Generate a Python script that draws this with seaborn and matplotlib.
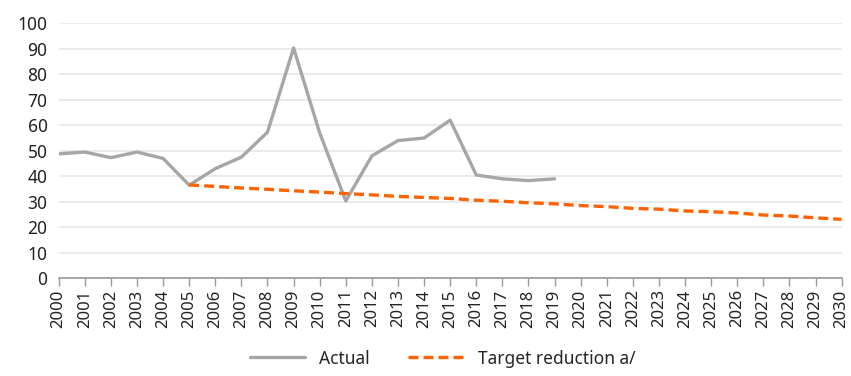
import matplotlib
matplotlib.use("Agg")
import matplotlib.pyplot as plt
import seaborn as sns
import pandas as pd

years_actual = list(range(2000, 2020))
actual = [48.8, 49.5, 47.3, 49.5, 47.0, 36.5, 43.0, 47.5, 57.3, 90.3,
          57.0, 30.3, 48.0, 54.0, 55.0, 62.0, 40.5, 39.0, 38.3, 39.0]

years_target = list(range(2005, 2031))
target = [36.6, 36.0, 35.4, 34.9, 34.3, 33.8, 33.2, 32.7, 32.1, 31.7,
          31.3, 30.6, 30.2, 29.6, 29.2, 28.5, 28.1, 27.4, 27.1, 26.4,
          26.1, 25.6, 24.8, 24.4, 23.7, 23.1]

series_names = ["Actual", "Target reduction a/"]
year_ticks = list(range(2000, 2031))
y_ticks = list(range(0, 101, 10))

df = pd.concat([
    pd.DataFrame({"year": years_actual, "value": actual, "series": series_names[0]}),
    pd.DataFrame({"year": years_target, "value": target, "series": series_names[1]}),
])

sns.set_theme(style="white")
plt.rcParams["font.family"] = ["Noto Sans", "DejaVu Sans"]

fig = plt.figure(figsize=(8.51, 3.76), dpi=100)
ax = fig.add_axes([0.069, 0.26, 0.92, 0.678])

palette = {series_names[0]: "#a6a6a6", series_names[1]: "#ff6200"}
sns.lineplot(data=df, x="year", y="value", hue="series", style="series",
             palette=palette, dashes={series_names[0]: "", series_names[1]: (3, 1.5)},
             linewidth=2.4, ax=ax, legend=True)

ax.set_xlim(2000, 2030)
ax.set_ylim(0, 100)
ax.set_xticks(year_ticks)
ax.set_xticklabels([str(y) for y in year_ticks], rotation=90, fontsize=12, color="#222222")
ax.set_yticks(y_ticks)
ax.set_yticklabels([str(v) for v in y_ticks], fontsize=12.5, color="#222222")
ax.set_xlabel("")
ax.set_ylabel("")
ax.yaxis.grid(True, color="#e6e6e6", linewidth=1.2)
ax.set_axisbelow(True)
for s in ["left", "top", "right"]:
    ax.spines[s].set_visible(False)
ax.spines["bottom"].set_color("#999999")
ax.spines["bottom"].set_linewidth(1.2)
ax.tick_params(axis="x", which="major", bottom=True, length=6, width=1, color="#999999", pad=2)
ax.tick_params(axis="y", length=0, pad=8)

handles, labels = ax.get_legend_handles_labels()
leg = ax.legend(handles, labels, loc="lower center", ncol=2, frameon=False,
                fontsize=12.5, handlelength=3.2, columnspacing=2.2,
                borderaxespad=0.0)
leg.set_bbox_to_anchor((0.52, 0.004), transform=fig.transFigure)

fig.savefig("out.png", dpi=100)
